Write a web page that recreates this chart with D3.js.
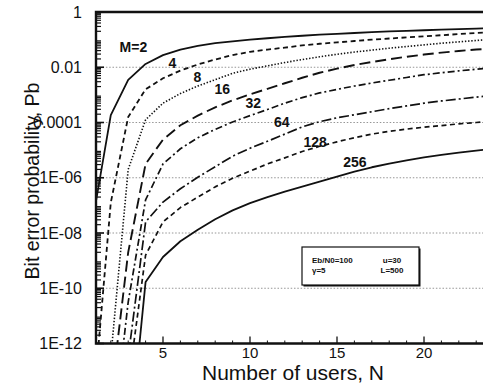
<!DOCTYPE html>
<html>
<head>
<meta charset="utf-8">
<script src="https://cdn.jsdelivr.net/npm/d3@7"></script>
<style>
  html, body { margin: 0; padding: 0; background: #fff; }
  svg { display: block; }
</style>
</head>
<body>
<div id="chart"></div>
<script>
/* Number of users N (x positions of the computed points) */
const usersN = [1, 2, 3, 4, 5, 6, 7, 8, 9, 10, 11, 12, 13, 14, 15, 16, 17, 18, 19, 20, 21, 22, 23, 24];

/* log10 of the bit error probability for each M (null = far below the axis) */
const logPbM2 = [-7.4, -3.73, -2.46, -1.88, -1.56, -1.36, -1.23, -1.13, -1.06, -1.0, -0.95, -0.9, -0.86, -0.82, -0.79, -0.76, -0.73, -0.7, -0.68, -0.66, -0.64, -0.62, -0.6, -0.58];
const logPbM4 = [-14.2, -6.9, -3.8, -2.8, -2.4, -2.12, -1.9, -1.72, -1.56, -1.44, -1.36, -1.29, -1.21, -1.15, -1.1, -1.05, -1.0, -0.96, -0.92, -0.88, -0.84, -0.8, -0.76, -0.73];
const logPbM8 = [null, -12.5, -5.7, -3.9, -3.3, -2.95, -2.68, -2.45, -2.22, -2.07, -1.95, -1.83, -1.72, -1.62, -1.53, -1.45, -1.38, -1.31, -1.25, -1.19, -1.13, -1.08, -1.03, -0.99];
const logPbM16 = [null, -14, -8.7, -5.5, -4.62, -4.1, -3.75, -3.45, -3.2, -2.98, -2.78, -2.58, -2.38, -2.2, -2.05, -1.92, -1.81, -1.71, -1.62, -1.54, -1.47, -1.41, -1.36, -1.32];
const logPbM32 = [null, -16, -10.5, -6.8, -5.5, -4.95, -4.55, -4.25, -3.98, -3.75, -3.53, -3.3, -3.1, -2.93, -2.8, -2.68, -2.57, -2.47, -2.37, -2.27, -2.2, -2.13, -2.07, -2.02];
const logPbM64 = [null, null, -12.5, -7.6, -6.88, -6.4, -5.98, -5.6, -5.22, -4.93, -4.68, -4.42, -4.16, -3.97, -3.83, -3.72, -3.61, -3.5, -3.4, -3.3, -3.22, -3.15, -3.08, -3.02];
const logPbM128 = [null, null, -13.5, -8.8, -7.6, -7.08, -6.7, -6.33, -6.02, -5.76, -5.5, -5.28, -5.05, -4.86, -4.7, -4.55, -4.42, -4.32, -4.24, -4.17, -4.11, -4.05, -4.0, -3.95];
const logPbM256 = [null, null, -16.1, -9.77, -8.87, -8.3, -7.88, -7.5, -7.18, -6.92, -6.7, -6.5, -6.32, -6.14, -5.96, -5.78, -5.62, -5.49, -5.37, -5.26, -5.17, -5.09, -5.02, -4.95];

/* Curve labels: text and anchor point in data space (N, log10 Pb) */
const curveLabels = ['M=2', '4', '8', '16', '32', '64', '128', '256'];
const labelN = [3.3, 5.54, 6.97, 8.41, 10.19, 11.82, 13.74, 16.03];
const labelLogPb = [-1.27, -1.86, -2.34, -2.8, -3.31, -3.97, -4.7, -5.42];

/* Axis ticks */
const yMajorTicks = [1, 1e-2, 1e-4, 1e-6, 1e-8, 1e-10, 1e-12];
const yTickLabels = ['1', '0.01', '0.0001', '1E-06', '1E-08', '1E-10', '1E-12'];
const gridValues = [1e-2, 1e-4, 1e-6, 1e-8, 1e-10];
const xMajorTicks = [5, 10, 15, 20];

/* Parameter box text */
const paramLeft = ['Eb/N0=100', '\u03b3=5'];
const paramRight = ['u=30', 'L=500'];

const series = [logPbM2, logPbM4, logPbM8, logPbM16, logPbM32, logPbM64, logPbM128, logPbM256];
const dashes = [null, '5,3.5', '1.4,1.8', '11,5', '7,3,2,3', '10,3,2,3', '5,3.5', null];
const widths = [1.8, 1.8, 1.6, 1.9, 1.7, 1.7, 1.7, 1.8];

const width = 483;
const height = 384;
const margin = { top: 12, right: 0, bottom: 40.5, left: 96 };
const font = '"Liberation Sans", Arial, Helvetica, sans-serif';
const ink = '#111';

const x = d3.scaleLinear().domain([1.15, 23.39]).range([margin.left, width - margin.right]);
const y = d3.scaleLog().domain([1e-12, 1]).range([height - margin.bottom, margin.top]);

const svg = d3
  .select('#chart')
  .append('svg')
  .attr('width', width)
  .attr('height', height)
  .attr('viewBox', `0 0 ${width} ${height}`)
  .style('background', '#fff');

svg
  .append('defs')
  .append('clipPath')
  .attr('id', 'plot-clip')
  .append('rect')
  .attr('x', margin.left)
  .attr('y', margin.top)
  .attr('width', width - margin.left - margin.right)
  .attr('height', height - margin.top - margin.bottom);

/* Dotted grid */
svg
  .append('g')
  .attr('class', 'grid')
  .selectAll('line')
  .data(gridValues)
  .join('line')
  .attr('x1', margin.left)
  .attr('x2', width - margin.right)
  .attr('y1', (d) => y(d))
  .attr('y2', (d) => y(d))
  .attr('stroke', '#8a8a8a')
  .attr('stroke-width', 0.9)
  .attr('stroke-dasharray', '1.5,1.8');

/* Curves */
const line = d3
  .line()
  .defined((d) => d.v !== null)
  .x((d) => x(d.n))
  .y((d) => y(Math.pow(10, d.v)));

const curves = svg.append('g').attr('clip-path', 'url(#plot-clip)');

series.forEach((values, i) => {
  const pts = usersN.map((n, j) => ({ n, v: values[j] }));
  curves
    .append('path')
    .datum(pts)
    .attr('fill', 'none')
    .attr('stroke', ink)
    .attr('stroke-width', widths[i])
    .attr('stroke-dasharray', dashes[i])
    .attr('stroke-linejoin', 'round')
    .attr('d', line);
});

/* Curve labels */
svg
  .append('g')
  .selectAll('text')
  .data(curveLabels)
  .join('text')
  .attr('x', (d, i) => x(labelN[i]))
  .attr('y', (d, i) => y(Math.pow(10, labelLogPb[i])))
  .attr('text-anchor', 'middle')
  .attr('dominant-baseline', 'central')
  .attr('font-family', font)
  .attr('font-size', 14)
  .attr('font-weight', 700)
  .attr('fill', ink)
  .text((d) => d);

/* Y axis: log ticks pointing inward */
const yMinor = [];
for (let e = -12; e < 0; e++) {
  for (let k = 2; k <= 9; k++) yMinor.push(k * Math.pow(10, e));
}

const yAxisG = svg.append('g');
yAxisG
  .selectAll('line.minor')
  .data(yMinor)
  .join('line')
  .attr('class', 'minor')
  .attr('x1', margin.left)
  .attr('x2', margin.left + 5)
  .attr('y1', (d) => y(d))
  .attr('y2', (d) => y(d))
  .attr('stroke', ink)
  .attr('stroke-width', 1.2);

yAxisG
  .selectAll('line.major')
  .data(yMajorTicks)
  .join('line')
  .attr('class', 'major')
  .attr('x1', margin.left)
  .attr('x2', margin.left + 8)
  .attr('y1', (d) => y(d))
  .attr('y2', (d) => y(d))
  .attr('stroke', ink)
  .attr('stroke-width', 1.6);

yAxisG
  .selectAll('text')
  .data(yMajorTicks)
  .join('text')
  .attr('x', margin.left - 14)
  .attr('y', (d) => y(d))
  .attr('text-anchor', 'end')
  .attr('dominant-baseline', 'central')
  .attr('font-family', font)
  .attr('font-size', 16)
  .attr('fill', ink)
  .text((d, i) => yTickLabels[i]);

/* X axis ticks pointing up */
const xAxisG = svg.append('g');
const xBase = height - margin.bottom;

xAxisG
  .selectAll('line.minor')
  .data(usersN.filter((n) => n > 1 && n < 24 && n % 5 !== 0))
  .join('line')
  .attr('class', 'minor')
  .attr('x1', (d) => x(d))
  .attr('x2', (d) => x(d))
  .attr('y1', xBase)
  .attr('y2', xBase - 3)
  .attr('stroke', ink)
  .attr('stroke-width', 1);

xAxisG
  .selectAll('line.major')
  .data(xMajorTicks)
  .join('line')
  .attr('class', 'major')
  .attr('x1', (d) => x(d))
  .attr('x2', (d) => x(d))
  .attr('y1', xBase)
  .attr('y2', xBase - 7)
  .attr('stroke', ink)
  .attr('stroke-width', 1.3);

xAxisG
  .selectAll('text')
  .data(xMajorTicks)
  .join('text')
  .attr('x', (d) => x(d))
  .attr('y', 358)
  .attr('text-anchor', 'middle')
  .attr('font-family', font)
  .attr('font-size', 15)
  .attr('fill', ink)
  .text((d) => d);

/* Frame: left, top, bottom */
svg
  .append('path')
  .attr('d', `M${width},${margin.top}H${margin.left}V${xBase}H${width}`)
  .attr('fill', 'none')
  .attr('stroke', ink)
  .attr('stroke-width', 2.4);

/* Axis titles */
svg
  .append('text')
  .attr('transform', `translate(39,${181}) rotate(-90)`)
  .attr('text-anchor', 'middle')
  .attr('font-family', font)
  .attr('font-size', 19.5)
  .attr('fill', ink)
  .text('Bit error probability, Pb');

svg
  .append('text')
  .attr('x', 293)
  .attr('y', 380)
  .attr('text-anchor', 'middle')
  .attr('font-family', font)
  .attr('font-size', 21)
  .attr('fill', ink)
  .text('Number of users, N');

/* Parameter box */
const box = { x: 302, y: 247, w: 117, h: 38 };
const boxG = svg.append('g');

boxG
  .append('rect')
  .attr('x', box.x + 1.5)
  .attr('y', box.y + 1.5)
  .attr('width', box.w)
  .attr('height', box.h)
  .attr('fill', ink);

boxG
  .append('rect')
  .attr('x', box.x)
  .attr('y', box.y)
  .attr('width', box.w)
  .attr('height', box.h)
  .attr('fill', '#fff')
  .attr('stroke', ink)
  .attr('stroke-width', 1.2);

boxG
  .selectAll('text.left')
  .data(paramLeft)
  .join('text')
  .attr('class', 'left')
  .attr('x', box.x + 10)
  .attr('y', (d, i) => box.y + 16 + i * 10)
  .attr('font-family', font)
  .attr('font-size', 8)
  .attr('font-weight', 700)
  .attr('fill', ink)
  .text((d) => d);

boxG
  .selectAll('text.right')
  .data(paramRight)
  .join('text')
  .attr('class', 'right')
  .attr('x', box.x + 90)
  .attr('y', (d, i) => box.y + 16 + i * 10)
  .attr('text-anchor', 'middle')
  .attr('font-family', font)
  .attr('font-size', 8)
  .attr('font-weight', 700)
  .attr('fill', ink)
  .text((d) => d);
</script>
</body>
</html>
